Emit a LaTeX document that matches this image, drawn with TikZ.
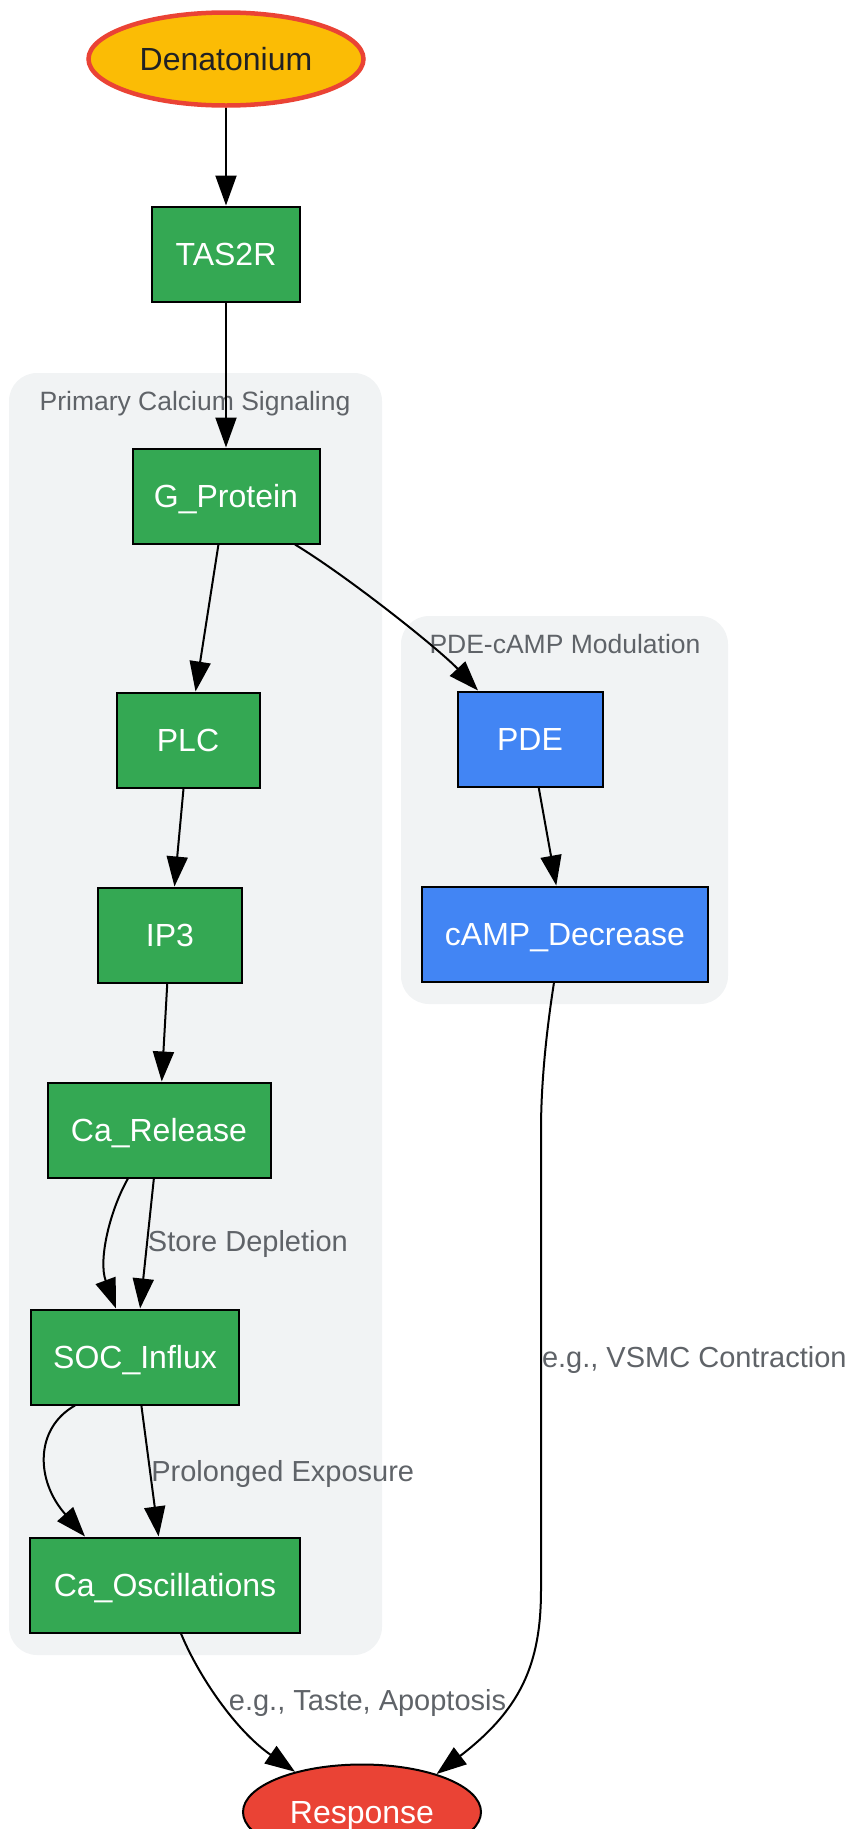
\documentclass[tikz,border=0pt]{standalone}
\usepackage{fontspec}
\setmainfont{Liberation Sans}
\usepackage{tikz}
\usetikzlibrary{arrows.meta}
\usetikzlibrary{shapes.geometric}
\definecolor{gGreen}{HTML}{34A853}
\definecolor{gBlue}{HTML}{4285F4}
\definecolor{gYellow}{HTML}{FBBC05}
\definecolor{gRed}{HTML}{EA4335}
\definecolor{clusterGray}{HTML}{F1F3F4}
\definecolor{labelGray}{HTML}{5F6368}
\definecolor{darkText}{HTML}{202124}

\tikzset{
  procbox/.style={draw, line width=2pt, minimum height=95pt, inner sep=0pt,
    text height=23pt, text depth=0pt, text=white,
    font=\fontsize{32}{38}\selectfont},
  greenbox/.style={procbox, fill=gGreen},
  bluebox/.style={procbox, fill=gBlue},
  edgelabel/.style={inner sep=0pt, anchor=west, text=labelGray,
    font=\fontsize{29}{34}\selectfont},
  clustertitle/.style={inner sep=0pt, anchor=base, text=labelGray,
    font=\fontsize{26.5}{32}\selectfont},
  clusterbg/.style={fill=clusterGray, rounded corners=28pt}
}

\begin{document}
\begin{tikzpicture}[x=1pt, y=-1pt, line width=2pt,
  >={Triangle[length=30pt,width=21pt]}]
\useasboundingbox (0,0) rectangle (852,1829);

% clusters
\fill[clusterbg] (9,373) rectangle (382,1655);
\fill[clusterbg] (401,616) rectangle (728,1004);
\node[clustertitle] (pcs) at (195,410) {Primary Calcium Signaling};
\node[clustertitle] (pdc) at (565,653) {PDE-cAMP Modulation};

% nodes
\node[ellipse, draw=gRed, line width=4.5pt, fill=gYellow, text=darkText,
  minimum width=275pt, minimum height=93pt, inner sep=0pt,
  text height=23pt, text depth=0pt, font=\fontsize{32}{38}\selectfont]
  (den) at (226,59) {Denatonium};

\foreach \name/\txt/\x/\y/\w in {tas/TAS2R/226/254/148, gp/G\_Protein/226/496/187,
    plc/PLC/188/740/143, ip3/IP3/170/935/144, car/Ca\_Release/159/1130/223,
    soc/SOC\_Influx/135/1357/208, cao/Ca\_Oscillations/165/1585/270}
  \node[greenbox, minimum width=\w pt] (\name) at (\x,\y) {\txt};

\node[bluebox, minimum width=145pt] (pde) at (530,739) {PDE};
\node[bluebox, minimum width=286pt] (camp) at (565,934) {cAMP\_Decrease};

\node[ellipse, draw, fill=gRed, text=white, minimum width=238pt,
  minimum height=95pt, inner sep=0pt, text height=23pt, text depth=0pt,
  font=\fontsize{32}{38}\selectfont] (resp) at (362,1812) {Response};

% edges
\foreach \a/\b in {den/tas, tas/gp, gp/plc, plc/ip3, ip3/car, pde/camp}
  \draw[->] (\a) -- (\b);

\draw[->] ([xshift=69pt]gp.south) .. controls (350,578) and (440,650) .. ([xshift=-52pt]pde.north);

\draw[->] ([xshift=-31pt]car.south) .. controls (110,1210) and (98,1260) .. ([xshift=-19pt]soc.north);
\draw[->] (car) -- node[edgelabel, pos=0.5] {Store Depletion} (soc);

\draw[->] ([xshift=-60pt]soc.south) .. controls (35,1428) and (35,1480) .. ([xshift=-80pt]cao.north);
\draw[->] (soc) -- node[edgelabel, pos=0.52] {Prolonged Exposure} (cao);

\draw[->] ([xshift=16pt]cao.south) .. controls (198,1675) and (235,1730) .. node[edgelabel, pos=0.5, xshift=6pt] {e.g., Taste, Apoptosis} (resp.149);

\draw[->] ([xshift=-11pt]camp.south) .. controls (545,1040) and (541,1090) .. (541,1130)
  -- node[edgelabel] {e.g., VSMC Contraction} (541,1590)
  .. controls (541,1665) and (520,1710) .. (resp.27);
\end{tikzpicture}
\end{document}
